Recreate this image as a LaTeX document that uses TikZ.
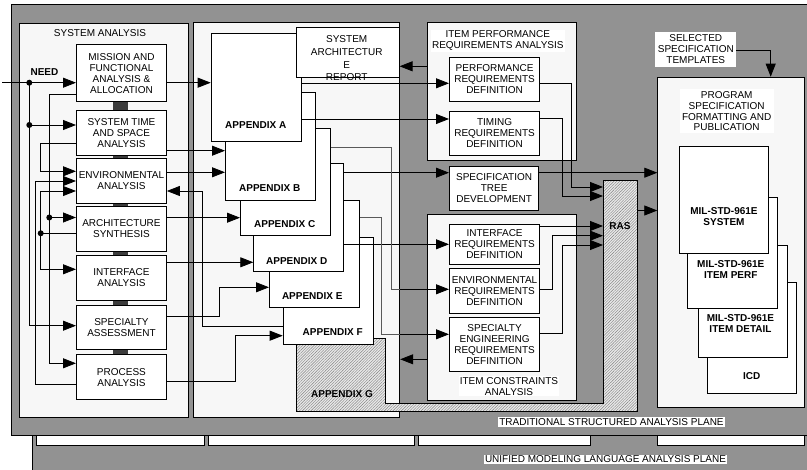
\documentclass[tikz,border=0pt]{standalone}
\usepackage{fontspec}
\setmainfont{Liberation Sans}
\usetikzlibrary{arrows.meta,patterns.meta}
\definecolor{planegray}{RGB}{146,146,146}
\definecolor{panelfill}{RGB}{247,247,247}
\definecolor{jointgray}{RGB}{60,60,60}
\definecolor{hatchback}{RGB}{232,232,232}
\tikzset{
  box/.style={draw, line width=0.9pt, fill=white, anchor=north west, inner sep=0pt,
    align=center, font=\fontsize{10}{11}\selectfont},
  appbox/.style={draw, line width=0.9pt, fill=white, anchor=north west, inner sep=0pt,
    minimum width=90pt, minimum height=107.5pt},
  panel/.style={draw, line width=0.9pt, fill=panelfill, anchor=north west, inner sep=0pt},
  heading/.style={fill=white, inner sep=1pt, align=center, font=\fontsize{10}{11}\selectfont},
  boldtxt/.style={inner sep=0pt, align=center, font=\bfseries\fontsize{10}{11}\selectfont},
  wire/.style={line width=0.8pt},
  backwire/.style={wire, draw=gray!70!black},
  arr/.style={wire, -{Triangle[length=13pt,width=10pt]}},
}
\begin{document}
\begin{tikzpicture}[x=1pt, y=-1pt]
\useasboundingbox (0,0) rectangle (807,470);
% lower plane
\fill[planegray] (32,435) rectangle (812,475);
\draw[line width=0.9pt] (32,475) -- (32,435) -- (812,435);
\foreach \xa/\xb in {36/204, 208/414, 418/590, 657/804}
  \draw[line width=0.8pt, fill=white] (\xa,435) rectangle (\xb,445.5);
\node[heading] (umlplane) at (605.5,459.3) {UNIFIED MODELING LANGUAGE ANALYSIS PLANE};
% upper plane
\draw[line width=0.9pt, fill=planegray] (812,4.7) -- (11.7,4.7) -- (11.7,435) -- (812,435);
\node[heading] (tsaplane) at (611.5,422) {TRADITIONAL STRUCTURED ANALYSIS PLANE};

% panels
\node[panel, minimum width=168.7pt, minimum height=394.3pt] (sysana) at (19.3,22.7) {};
\node[panel, minimum width=206.6pt, minimum height=395.6pt] (appx) at (192.7,21.7) {};
\node[panel, minimum width=149.3pt, minimum height=138.3pt] (itemperf) at (426.7,21.7) {};
\node[panel, minimum width=148.7pt, minimum height=186pt] (itemcon) at (427.3,214) {};
\node[panel, minimum width=146.7pt, minimum height=330pt] (progspec) at (657.3,76.7) {};
\node[inner sep=1pt, font=\fontsize{10}{11}\selectfont] (sysanat) at (100,33) {SYSTEM ANALYSIS};
\node[heading] (itemperft) at (497.8,40.8) {ITEM PERFORMANCE\\REQUIREMENTS ANALYSIS};
\node[heading] (itemcont) at (509,386.2) {ITEM CONSTRAINTS\\ANALYSIS};
\node[heading, inner sep=2.5pt, font=\fontsize{10}{10.8}\selectfont] (progspect) at (726.7,111.2) {PROGRAM\\SPECIFICATION\\FORMATTING AND\\PUBLICATION};
\node[heading, inner sep=2.5pt] (templates) at (695.8,49.5) {SELECTED\\SPECIFICATION\\TEMPLATES};

% system analysis column
\foreach \ya/\yb in {101/110, 155/158.3, 202.7/206, 250.7/255, 300/305, 349.3/354.3}
  \fill[jointgray] (113.3,\ya) rectangle (127.7,\yb);
\node[box, minimum width=90pt, minimum height=56.7pt] (mission) at (76,44.3) {MISSION AND\\FUNCTIONAL\\ANALYSIS \&\\ALLOCATION};
\node[box, minimum width=90pt, minimum height=45pt] (systime) at (76,110) {SYSTEM TIME\\AND SPACE\\ANALYSIS};
\node[box, minimum width=90pt, minimum height=44.4pt] (env) at (76,158.3) {ENVIRONMENTAL\\ANALYSIS};
\node[box, minimum width=90pt, minimum height=44.7pt] (arch) at (76,206) {ARCHITECTURE\\SYNTHESIS};
\node[box, minimum width=90pt, minimum height=45pt] (intf) at (76,255) {INTERFACE\\ANALYSIS};
\node[box, minimum width=90pt, minimum height=44.3pt] (spec) at (76,305) {SPECIALTY\\ASSESSMENT};
\node[box, minimum width=90pt, minimum height=45pt] (proc) at (76,354.3) {PROCESS\\ANALYSIS};

% appendix G joined to RAS
\draw[line width=1pt, preaction={fill=hatchback}, pattern={Lines[angle=45,distance=2pt,line width=0.4pt]}, pattern color=gray]
  (296,339) -- (385,339) -- (385,404) -- (603,404) -- (603,181) -- (637,181) -- (637,412) -- (296,412) -- cycle;
\node[inner sep=0pt, minimum width=34pt, minimum height=231pt, anchor=north west] (ras) at (603,181) {};
\node[boldtxt] (raslbl) at (620,226) {RAS};
\node[boldtxt] (appGlbl) at (342,394.3) {APPENDIX G};

% appendices
\foreach \nm/\xx/\yy/\lx/\ly in {F/282.7/236.7/332.7/332.3, E/269/200/312.3/295.7,
    D/253.3/163.3/296.7/260.7, C/240/127.7/284.7/224.3, B/225/92.3/269.7/188.3, A/210.7/33.3/255.8/125}
{
  \node[appbox] (app\nm) at (\xx,\yy) {};
  \node[boldtxt] (app\nm lbl) at (\lx,\ly) {APPENDIX \nm};
}
\node[box, minimum width=102.7pt, minimum height=49.4pt] (sar) at (296,27.3) {};
\node[inner sep=0pt, align=center, font=\fontsize{10}{12.7}\selectfont] (sarlbl) at (346.7,58.3) {SYSTEM\\ARCHITECTUR\\E\\REPORT};

% item requirements
\node[box, minimum width=90.3pt, minimum height=44.3pt] (perf) at (449,56.7) {PERFORMANCE\\REQUIREMENTS\\DEFINITION};
\node[box, minimum width=90.3pt, minimum height=44.3pt] (timing) at (449,110.7) {TIMING\\REQUIREMENTS\\DEFINITION};
\node[box, minimum width=89.3pt, minimum height=44.3pt] (spectree) at (449,165.7) {SPECIFICATION\\TREE\\DEVELOPMENT};
\node[box, minimum width=90.3pt, minimum height=40pt] (intreq) at (449,224) {INTERFACE\\REQUIREMENTS\\DEFINITION};
\node[box, minimum width=90.3pt, minimum height=44.4pt] (envreq) at (449,268.3) {ENVIRONMENTAL\\REQUIREMENTS\\DEFINITION};
\node[box, minimum width=90.3pt, minimum height=53.4pt] (speceng) at (449,317.3) {SPECIALTY\\ENGINEERING\\REQUIREMENTS\\DEFINITION};

% specification documents
\node[appbox, minimum width=89.3pt, minimum height=111.6pt] (icd) at (706.7,281.7) {};
\node[boldtxt] (icdlbl) at (751.7,375.7) {ICD};
\node[appbox, minimum width=89.6pt, minimum height=111.7pt] (mildet) at (697.7,245) {};
\node[boldtxt] (mildetlbl) at (740.5,324) {MIL-STD-961E\\ITEM DETAIL};
\node[appbox, minimum width=90pt, minimum height=111pt] (milperf) at (686.7,196.7) {};
\node[boldtxt] (milperflbl) at (730.8,269.7) {MIL-STD-961E\\ITEM PERF};
\node[appbox, minimum width=89.6pt, minimum height=107pt] (milsys) at (678.7,145.7) {};
\node[boldtxt] (milsyslbl) at (724,216.3) {MIL-STD-961E\\SYSTEM};

% inputs of system analysis
\coordinate (needin) at (2,82.7);
\coordinate (busA) at (29.3,82.7);
\coordinate (busB) at (49.3,217.5);
\coordinate (busC) at (40.7,233.3);
\node[boldtxt] (needlbl) at (44.5,71.7) {NEED};
\draw[arr] (needin) -- (mission.west |- needin);
\draw[arr] (busA) |- (spec.west |- 0,325.7);
\draw[arr] (busA |- 0,125) -- (systime.west |- 0,125);
\draw[arr] (mission.west |- 0,94.3) -| (busB) |- (proc.west |- 0,363.3);
\draw[arr] (busB) -- (arch.west |- busB);
\draw[arr] (systime.west |- 0,143.3) -- ++(-36,0) |- (env.west |- 0,171.3);
\draw[arr] (proc.west |- 0,384) -- ++(-41,0) |- (env.west |- 0,181);
\draw[wire] (arch.west |- busC) -- (busC);
\draw[arr] (busC) |- (env.west |- 0,191);
\draw[arr] (busC) |- (intf.west |- 0,269.3);
\fill (busA) circle (3pt) (busA |- 0,125) circle (3pt) (busB) circle (3pt) (busC) circle (3pt);

% system analysis to appendices
\draw[arr] (mission.east |- 0,82.7) -- (appA.west |- 0,82.7);
\draw[arr] (systime.east |- 0,150.7) -- (appB.west |- 0,150.7);
\draw[arr] (env.east |- 0,172.3) -- (appB.west |- 0,172.3);
\draw[arr] (arch.east |- 0,217.7) -- (appC.west |- 0,217.7);
\draw[arr] (intf.east |- 0,262.3) -- (appD.west |- 0,262.3);
\draw[arr] (spec.east |- 0,316) -- ++(52.3,0) |- (appE.west |- 0,287.3);
\draw[arr] (proc.east |- 0,381) -- ++(68.3,0) |- (appF.west |- 0,335.7);
\draw[arr] (appF.west |- 0,326.7) -- ++(-80.4,0) |- (env.east |- 0,191);

% appendices to item requirements
\draw[arr] (itemperf.west |- 0,66.3) -- (sar.east |- 0,66.3);
\draw[arr] (itemcon.west |- 0,359.3) -- (appx.east |- 0,359.3);
\draw[arr] (appA.east |- 0,83.3) -- (perf.west |- 0,83.3);
\draw[arr] (appA.east |- 0,119) -- (timing.west |- 0,119);
\draw[arr] (appD.east |- 0,172.7) -- (spectree.west |- 0,172.7);
\draw[arr] (appD.east |- 0,244.3) -- (intreq.west |- 0,244.3);
\draw[backwire] (appC.east |- 0,147.7) -- ++(60.7,0) |- (appx.east |- 0,289.3);
\draw[arr] (appx.east |- 0,289.3) -- (envreq.west |- 0,289.3);
\draw[backwire] (appE.east |- 0,217.3) -- ++(21.7,0) |- (appx.east |- 0,334.3);
\draw[arr] (appx.east |- 0,334.3) -- (speceng.west |- 0,334.3);

% item requirements to RAS and publication
\draw[arr] (perf.east |- 0,83.3) -- ++(30.7,0) |- (ras.west |- 0,187);
\draw[arr] (timing.east |- 0,118.3) -- ++(21.7,0) |- (ras.west |- 0,196);
\draw[arr] (intreq.east |- 0,226) -- (ras.west |- 0,226);
\draw[arr] (envreq.east |- 0,289.3) -- ++(12.4,0) |- (ras.west |- 0,235.7);
\draw[arr] (speceng.east |- 0,333.3) -- ++(21.7,0) |- (ras.west |- 0,245);
\draw[arr] (spectree.east |- 0,172.7) -- (progspec.west |- 0,172.7);
\draw[arr] (ras.east |- 0,210.5) -- (progspec.west |- 0,210.5);
\draw[arr] (templates.east |- 0,50) -| (progspec.north -| 770.7,0);
\end{tikzpicture}
\end{document}
